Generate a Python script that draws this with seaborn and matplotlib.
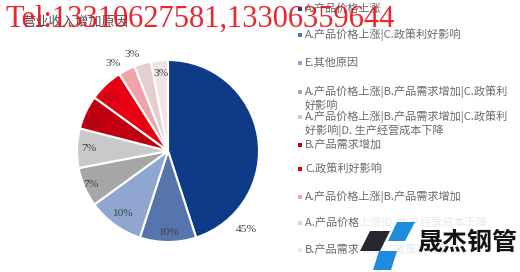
import matplotlib
matplotlib.use("Agg")
import matplotlib.pyplot as plt
from matplotlib.patches import Polygon, Rectangle
import numpy as np
import seaborn as sns

# ---- data -------------------------------------------------------------
categories = [
    "A.产品价格上涨",
    "A.产品价格上涨|C.政策利好影响",
    "E.其他原因",
    "A.产品价格上涨|B.产品需求增加|C.政策利好影响",
    "A.产品价格上涨|B.产品需求增加|C.政策利好影响|D. 生产经营成本下降",
    "B.产品需求增加",
    "C.政策利好影响",
    "A.产品价格上涨|B.产品需求增加",
    "A.产品价格上涨|D. 生产经营成本下降",
    "B.产品需求增加|C.政策利好影响",
]
shares = [45, 10, 10, 7, 7, 6, 6, 3, 3, 3]
share_labels = [f"{v}%" for v in shares]
title_text = "营业收入增加原因"
phone_text = "Tel:13310627581,13306359644"
brand_text = "晟杰钢管"

# ---- styling ----------------------------------------------------------
slice_colors = sns.color_palette([
    "#0d3b87", "#5675ac", "#8fa7d0", "#a6a6a6", "#c9c9c9",
    "#c00010", "#e60012", "#f0a3ab", "#e6cdd0", "#f2e4e6",
])
label_colors = ["#404040"] * 5 + ["#8e1820", "#8e1820"] + ["#404040"] * 3
label_radius = [1.22, 0.90, 0.85, 0.92, 0.87, 0.87, 0.85, 1.14, 1.13, 0.86]
label_shift = [-54, 0, 0, 0, 0, 6, 4, 5, 4, 0]          # degrees
legend_rows = [9, 35, 63, 92, 117, 145, 169, 197, 223, 250]  # px from top
wrap_at = 23

sns.set_theme(style="white")
plt.rcParams["font.family"] = ["Noto Sans CJK SC", "DejaVu Sans"]

W, H = 520, 272
fig = plt.figure(figsize=(W / 100, H / 100), dpi=100)
fig.patch.set_facecolor("white")


def fx(x):
    return x / W


def fy(y):
    return 1 - y / H


# ---- pie --------------------------------------------------------------
cx, cy, r = 168, 151, 91
ax = fig.add_axes([fx(cx - r), fy(cy + r), 2 * r / W, 2 * r / H])
wedges, _ = ax.pie(
    shares, colors=slice_colors, startangle=90, counterclock=False,
    wedgeprops=dict(edgecolor="white", linewidth=1.5),
)
ax.set_xlim(-1, 1)
ax.set_ylim(-1, 1)
ax.axis("off")

for w, txt, rad, dth, col in zip(wedges, share_labels, label_radius,
                                 label_shift, label_colors):
    ang = np.deg2rad((w.theta1 + w.theta2) / 2 + dth)
    ax.text(rad * np.cos(ang), rad * np.sin(ang), txt, ha="center",
            va="center", fontsize=8.2, color=col,
            family=["Liberation Serif", "DejaVu Serif"], clip_on=False)

# ---- legend -----------------------------------------------------------
for name, col, yrow in zip(categories, slice_colors, legend_rows):
    fig.patches.append(Rectangle((fx(298), fy(yrow + 2)), 4 / W, 4 / H,
                                 transform=fig.transFigure, color=col,
                                 lw=0))
    lines = [name[:wrap_at], name[wrap_at:]] if len(name) > wrap_at else [name]
    for k, line in enumerate(lines):
        fig.text(fx(305), fy(yrow + 14 * k), line, ha="left", va="center",
                 fontsize=8, color="#6a6a6a")

# ---- title ------------------------------------------------------------
fig.text(fx(22), fy(22), title_text, ha="left", va="center", fontsize=9.5,
         color="#505050")

# ---- brand mark -------------------------------------------------------
fig.patches.append(Rectangle((fx(358), 0), (W - 358) / W, (272 - 214) / H,
                             transform=fig.transFigure, color="white",
                             alpha=0.85, lw=0, zorder=5))
shapes = [
    ([(370, 231), (390, 231), (380, 251), (360, 251)], "#25292e"),
    ([(397, 222), (415, 222), (405, 241), (388, 241)], "#1e8cdc"),
    ([(379, 251), (397, 251), (391, 270), (373, 270)], "#1e8cdc"),
]
for pts, col in shapes:
    fig.patches.append(Polygon([(fx(x), fy(y)) for x, y in pts],
                               closed=True, transform=fig.transFigure,
                               color=col, lw=0, zorder=6))
fig.text(fx(417), fy(242), brand_text, ha="left", va="center", fontsize=18,
         fontweight="bold", color="#141414", zorder=7)

# ---- phone banner -----------------------------------------------------
fig.text(fx(5), fy(27), phone_text, ha="left", va="baseline", fontsize=22,
         color="#e6141e", alpha=0.92,
         family=["Liberation Serif", "DejaVu Serif"], zorder=8)

fig.savefig("out.png", dpi=100)
